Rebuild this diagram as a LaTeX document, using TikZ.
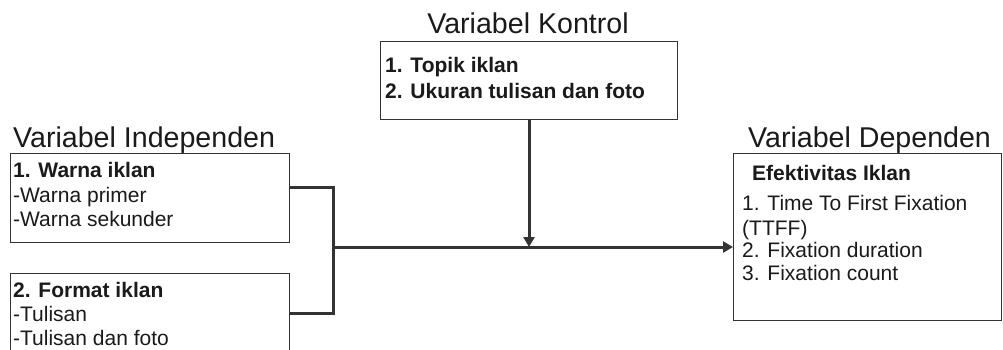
\documentclass[tikz,border=0pt]{standalone}
\usepackage{fontspec}
\setmainfont{Liberation Sans}
\usetikzlibrary{arrows.meta,calc}
\definecolor{ink}{HTML}{1A1A1A}
\definecolor{edge}{HTML}{333333}
\tikzset{
  box/.style={draw=edge, line width=1pt, fill=white, rectangle, inner sep=0pt, anchor=north west},
  title/.style={inner sep=0pt, anchor=base west, text=ink, font=\fontsize{28.6}{32}\selectfont},
  txt/.style={inner sep=0pt, anchor=base west, text=ink, font=\fontsize{21}{25}\selectfont},
  btxt/.style={txt, font=\fontsize{21}{25}\selectfont\bfseries},
  conn/.style={draw=edge, line width=3pt},
  arr/.style={conn, -{Triangle[length=10pt,width=11pt]}},
}
\begin{document}
\begin{tikzpicture}[x=1pt,y=-1pt]
\useasboundingbox (0,0) rectangle (1003,349);
\clip (0,0) rectangle (1003,349);
% boxes
\node[box, minimum width=279pt, minimum height=89pt] (warna) at (10,153) {};
\node[box, minimum width=279pt, minimum height=100pt] (format) at (10,273) {};
\node[box, minimum width=297pt, minimum height=78pt] (kontrol) at (380,41) {};
\node[box, minimum width=268pt, minimum height=167pt] (dep) at (733,153) {};
% titles
\node[title, anchor=base] (tk) at (528,33) {Variabel Kontrol};
\node[title] (ti) at (13,147) {Variabel Independen};
\node[title] (td) at (748,147) {Variabel Dependen};
% texts
\node[btxt] (w1) at (13,177) {1. Warna iklan};
\node[txt] (w2) at (13,202) {-Warna primer};
\node[txt] (w3) at (13,226) {-Warna sekunder};
\node[btxt] (f1) at (13,297) {2. Format iklan};
\node[txt] (f2) at (13,321) {-Tulisan};
\node[txt] (f3) at (13,345) {-Tulisan dan foto};
\node[btxt] (k1) at (385,72) {1. Topik iklan};
\node[btxt] (k2) at (385,98) {2. Ukuran tulisan dan foto};
\node[btxt] (d0) at (752,180) {Efektivitas Iklan};
\node[txt] (d1) at (742,210) {1. Time To First Fixation};
\node[txt] (d2) at (742,235) {(TTFF)};
\node[txt] (d3) at (742,257) {2. Fixation duration};
\node[txt] (d4) at (742,280) {3. Fixation count};
% connectors
\coordinate (j) at (333,247);
\coordinate (jk) at (kontrol.south |- j);
\draw[conn] (warna.east |- 0,187) -| (j);
\draw[conn] (format.east |- 0,313) -| (j);
\draw[arr] (j) -- (dep.west |- j);
\draw[arr] (kontrol.south) -- (jk);
\end{tikzpicture}
\end{document}
